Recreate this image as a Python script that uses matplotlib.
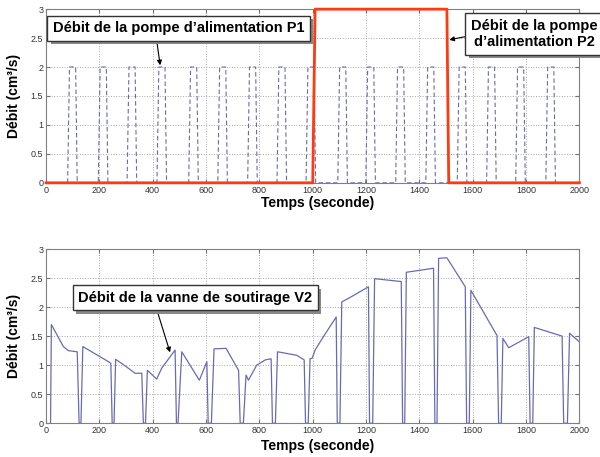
import matplotlib
matplotlib.use("Agg")
import matplotlib.pyplot as plt
import matplotlib.patheffects as pe

plt.rcParams['font.family'] = ['Liberation Sans', 'DejaVu Sans']

# pump P1: pulses at 2 cm3/s (rise start, top end)
p1_start = [81, 196, 304, 416, 535, 644, 756, 866, 975, 1094, 1199, 1311, 1424, 1542, 1652, 1761, 1874]
p1_stop = [111, 226, 334, 446, 565, 674, 786, 896, 1005, 1124, 1229, 1341, 1454, 1572, 1682, 1791, 1904]
p1_level = 2.0

# pump P2
p2_t = [0, 1000, 1009, 1503, 1510, 2000]
p2_v = [0, 0, 3, 3, 0, 0]

# valve V2
v2_t = [17, 20, 65, 84, 117, 124, 131, 138, 234, 243, 248, 255, 261, 296, 334,
        359, 365, 373, 380, 415, 434, 484, 489, 495, 509, 575, 603, 608, 620, 630,
        675, 722, 728, 740, 750, 759, 790, 822, 844, 849, 860, 868, 940, 968, 973,
        983, 990, 998, 1009, 1040, 1088, 1092, 1102, 1109, 1134, 1209, 1213, 1225, 1232, 1332,
        1337, 1345, 1351, 1453, 1458, 1466, 1472, 1503, 1572, 1577, 1587, 1593, 1691, 1697, 1707,
        1713, 1735, 1810, 1815, 1825, 1831, 1935, 1941, 1955, 1963, 2000]
v2_v = [0, 1.70, 1.32, 1.25, 1.23, 0, 0, 1.32, 1.06, 1.03, 0, 0, 1.10, 0.99, 0.86,
        0.86, 0, 0, 0.91, 0.76, 0.95, 1.26, 0, 0, 1.23, 0.74, 1.06, 0, 0, 1.28,
        1.29, 0.91, 0, 0, 0.83, 0.74, 1.00, 1.09, 1.11, 0, 0, 1.23, 1.17, 1.09, 0,
        0, 1.11, 1.12, 1.26, 1.49, 1.83, 0, 0, 2.09, 2.15, 2.35, 0, 0, 2.49, 2.44,
        0, 0, 2.60, 2.67, 0, 0, 2.84, 2.85, 2.35, 0, 0, 2.29, 1.51, 0, 0,
        1.46, 1.30, 1.49, 0, 0, 1.65, 1.50, 0, 0, 1.55, 1.40]

xticks = [0, 200, 400, 600, 800, 1000, 1200, 1400, 1600, 1800, 2000]
yticks = [0, 0.5, 1, 1.5, 2, 2.5, 3]

# build the P1 trapezoid trace
p1_t, p1_v = [0], [0]
for a, b in zip(p1_start, p1_stop):
    p1_t += [a, a + 7, b, b + 6]
    p1_v += [0, p1_level, p1_level, 0]
p1_t.append(2000)
p1_v.append(0)

fig = plt.figure(figsize=(6.0, 4.57), dpi=100)
ax1 = fig.add_axes([0.0767, 0.600, 0.889, 0.380])
ax2 = fig.add_axes([0.0767, 0.074, 0.889, 0.381])

blue = '#6a6ab4'
for ax in (ax1, ax2):
    ax.set_xlim(0, 2000)
    ax.set_ylim(0, 3)
    ax.set_xticks(xticks)
    ax.set_yticks(yticks)
    ax.set_yticklabels(['0', '0.5', '1', '1.5', '2', '2.5', '3'])
    ax.grid(True, linestyle=':', color='#a8a8a8', linewidth=0.7)
    ax.tick_params(direction='in', labelsize=6.5, length=3, color='#707070',
                   labelcolor='#333333', pad=2, top=True, right=True)
    for s in ax.spines.values():
        s.set_color('#808080')
        s.set_linewidth(0.8)
    ax.set_ylabel('Débit (cm³/s)', fontsize=10, fontweight='bold', va='center')
    ax.yaxis.set_label_coords(-0.06, 0.5)

ax1.set_xlabel('Temps (seconde)', fontsize=10, fontweight='bold', va='center')
ax1.xaxis.set_label_coords(0.51, -0.118)
ax2.set_xlabel('Temps (seconde)', fontsize=10, fontweight='bold', va='center')
ax2.xaxis.set_label_coords(0.51, -0.132)

ax1.plot(p1_t, p1_v, linestyle='--', color=blue, linewidth=0.8, dashes=(4, 2.5))
ax1.plot(p2_t, p2_v, color='#ff3a10', linewidth=2.0, clip_on=False, zorder=5)
ax2.plot(v2_t, v2_v, color=blue, linewidth=0.9)

box = dict(boxstyle='square,pad=0.38', facecolor='white', edgecolor='#333333', linewidth=1.0)
shadow = [pe.withSimplePatchShadow(offset=(2.5, -2.5), shadow_rgbFace='#888888', alpha=1.0)]


def label(ax, text, xy, xytext, relpos, **kw):
    arrow = dict(arrowstyle='-|>', color='black', linewidth=0.8, mutation_scale=7,
                 shrinkA=0, shrinkB=0, relpos=relpos)
    a = ax.annotate(text, xy=xy, xytext=xytext, fontsize=10.5, fontweight='bold',
                    ha='center', va='center', bbox=box, arrowprops=arrow,
                    annotation_clip=False, zorder=10, **kw)
    a.get_bbox_patch().set_path_effects(shadow)
    return a


label(ax1, 'Débit de la pompe d’alimentation P1', xy=(428, 2.03), xytext=(497, 2.67),
      relpos=(0.41, 0))
label(ax1, 'Débit de la pompe\nd’alimentation P2', xy=(1512, 2.47), xytext=(1830, 2.57),
      relpos=(0, 0.45), linespacing=1.25)
label(ax2, 'Débit de la vanne de soutirage V2', xy=(465, 1.22), xytext=(559, 2.16),
      relpos=(0.33, 0))

fig.savefig('out.png', dpi=100)
